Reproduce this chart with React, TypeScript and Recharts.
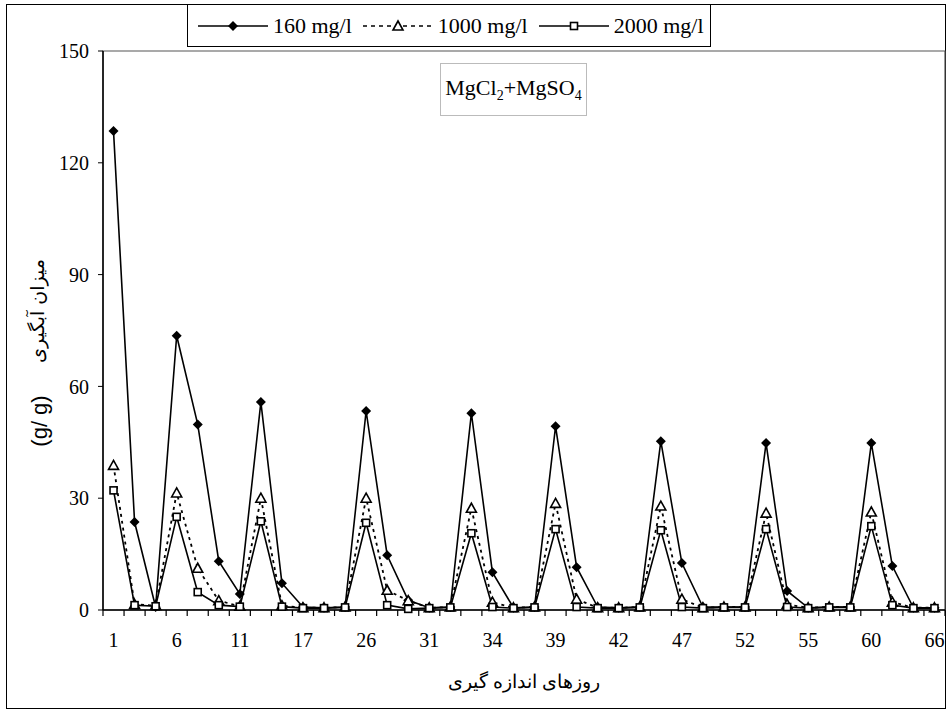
import React from "react";
import { LineChart, Line, XAxis, YAxis, ReferenceArea, Label } from "recharts";

// measurement days (category labels); only every 3rd one is printed on the axis
const days = [
  1, 2, 4, 6, 8, 9, 11, 13, 15, 17, 19, 22, 26, 27, 29, 31, 32, 33, 34, 36,
  38, 39, 40, 41, 42, 45, 46, 47, 48, 50, 52, 53, 54, 55, 57, 59, 60, 62, 64, 66,
];

const mg160 = [
  128.5, 23.6, 0.8, 73.6, 49.8, 13.1, 4.3, 55.8, 7.2, 0.8, 0.6, 0.8, 53.4, 14.7, 2.6, 0.6, 0.8, 52.8, 10.1, 0.6,
  0.8, 49.3, 11.5, 0.8, 0.6, 0.8, 45.3, 12.6, 0.8, 0.8, 0.8, 44.8, 5.1, 0.6, 0.8, 0.8, 44.8, 11.8, 0.6, 0.6,
];
const mg1000 = [
  38.8, 1.5, 1.2, 31.4, 11.2, 2.5, 1.0, 30.0, 1.2, 0.6, 0.6, 0.8, 30.0, 5.3, 2.5, 0.6, 0.8, 27.3, 2.1, 0.6,
  0.8, 28.6, 2.9, 0.6, 0.6, 0.8, 27.9, 2.9, 0.6, 0.8, 0.8, 26.0, 1.5, 0.6, 0.8, 0.8, 26.3, 2.1, 0.6, 0.6,
];
const mg2000 = [
  32.1, 1.3, 1.0, 25.0, 4.8, 1.3, 0.9, 23.8, 0.9, 0.5, 0.5, 0.7, 23.4, 1.3, 0.3, 0.5, 0.7, 20.6, 0.8, 0.5,
  0.7, 21.7, 0.8, 0.5, 0.5, 0.7, 21.4, 0.8, 0.5, 0.7, 0.7, 21.7, 0.8, 0.5, 0.7, 0.7, 22.5, 1.3, 0.5, 0.5,
];

const yTicks = [0, 30, 60, 90, 120, 150];

const rows = days.map((d, i) => ({
  pos: i + 0.5,
  day: d,
  a: mg160[i],
  b: mg1000[i],
  c: mg2000[i],
}));

// tick marks sit on category boundaries, labels on every 3rd category centre
const xTicks: number[] = [];
for (let i = 0; i <= days.length; i++) xTicks.push(i);
for (let i = 0; i < days.length; i += 3) xTicks.push(i + 0.5);
xTicks.sort((p, q) => p - q);

const SERIF = "'Liberation Serif', 'Times New Roman', serif";

const Diamond = (p: any) => {
  const { cx, cy, index } = p;
  if (cx == null || cy == null) return null;
  return (
    <path
      key={`dm-${index}`}
      d={`M${cx},${cy - 5} L${cx + 5},${cy} L${cx},${cy + 5} L${cx - 5},${cy} Z`}
      fill="#000"
    />
  );
};

const Tri = (p: any) => {
  const { cx, cy, index } = p;
  if (cx == null || cy == null) return null;
  return (
    <path
      key={`tr-${index}`}
      d={`M${cx},${cy - 5} L${cx + 5},${cy + 4} L${cx - 5},${cy + 4} Z`}
      fill="#fff"
      stroke="#000"
      strokeWidth={1.6}
    />
  );
};

const Sq = (p: any) => {
  const { cx, cy, index } = p;
  if (cx == null || cy == null) return null;
  return (
    <rect
      key={`sq-${index}`}
      x={cx - 3.5}
      y={cy - 3.5}
      width={7}
      height={7}
      fill="#fff"
      stroke="#000"
      strokeWidth={1.6}
    />
  );
};

const XTick = (props: any) => {
  const { x, y, payload } = props;
  const v = payload.value;
  if (Number.isInteger(v)) {
    return <line x1={x} x2={x} y1={y} y2={y + 6} stroke="#000" strokeWidth={1.2} />;
  }
  const idx = Math.round(v - 0.5);
  return (
    <text x={x} y={y + 37} textAnchor="middle" fontFamily={SERIF} fontSize={20} fill="#000">
      {days[idx]}
    </text>
  );
};

const legendItems = [
  { label: "160 mg/l", dash: undefined, mark: "d" },
  { label: "1000 mg/l", dash: "4 4", mark: "t" },
  { label: "2000 mg/l", dash: undefined, mark: "s" },
];

const LegendSwatch = ({ dash, mark }: { dash?: string; mark: string }) => (
  <svg width={70} height={14} style={{ display: "block" }}>
    <line x1={0} x2={70} y1={7} y2={7} stroke="#000" strokeWidth={1.6} strokeDasharray={dash} />
    {mark === "d" && <Diamond cx={35} cy={7} index={0} />}
    {mark === "t" && <Tri cx={35} cy={7} index={0} />}
    {mark === "s" && <Sq cx={35} cy={7} index={0} />}
  </svg>
);

const LegendBox = () => (
  <div
    style={{
      position: "absolute",
      left: 187,
      top: 4,
      width: 524,
      height: 43,
      border: "1.5px solid #000",
      boxSizing: "border-box",
      background: "#fff",
      display: "flex",
      alignItems: "center",
      paddingLeft: 10,
      whiteSpace: "nowrap",
    }}
  >
    {legendItems.map(it => (
      <div key={it.label} style={{ display: "flex", alignItems: "center", marginRight: 11 }}>
        <LegendSwatch dash={it.dash} mark={it.mark} />
        <span style={{ fontFamily: SERIF, fontSize: 22, marginLeft: 5, color: "#000" }}>{it.label}</span>
      </div>
    ))}
  </div>
);

const YTitle = () => (
  <g>
    <text
      transform="translate(44, 311) rotate(-90)"
      textAnchor="middle"
      fontSize={19}
      fill="#000"
      fontFamily="'DejaVu Sans', sans-serif"
    >
      میزان آبگیری
    </text>
    <text
      transform="translate(47, 421) rotate(-90)"
      textAnchor="middle"
      fontSize={22}
      fill="#000"
      fontFamily="'Liberation Sans', Arial, sans-serif"
    >
      (g/ g)
    </text>
  </g>
);

export default function App() {
  return (
    <div style={{ position: "absolute", left: 0, top: 0, width: 948, height: 719, background: "#fff" }}>
      <div
        style={{
          position: "absolute",
          left: 6,
          top: 4,
          width: 940,
          height: 705,
          border: "1.5px solid #000",
          boxSizing: "border-box",
        }}
      />
      <LineChart
        width={948}
        height={719}
        data={rows}
        margin={{ top: 51, right: 3, bottom: 69, left: 43 }}
        style={{ position: "absolute", left: 0, top: 0 }}
      >
        <ReferenceArea x1={0} x2={40} y1={0} y2={150} fill="none" stroke="#555" strokeWidth={1.2} />
        <XAxis
          type="number"
          dataKey="pos"
          domain={[0, 40]}
          ticks={xTicks}
          interval={0}
          tickLine={false}
          tickSize={0}
          tickMargin={0}
          height={40}
          axisLine={{ stroke: "#000", strokeWidth: 1.5 }}
          tick={<XTick />}
        >
          <Label
            value="روزهای اندازه گیری"
            position="insideBottom"
            offset={-38}
            style={{ fontSize: 19, fill: "#000" }}
          />
        </XAxis>
        <YAxis
          type="number"
          domain={[0, 150]}
          ticks={yTicks}
          width={60}
          tickSize={5}
          tickMargin={9}
          axisLine={{ stroke: "#000", strokeWidth: 1.5 }}
          tickLine={{ stroke: "#000" }}
          tick={{ fill: "#000", fontSize: 20, fontFamily: SERIF }}
        >
          <Label content={<YTitle />} />
        </YAxis>
        <Line
          dataKey="a"
          name="160 mg/l"
          stroke="#000"
          strokeWidth={1.6}
          dot={Diamond}
          activeDot={false}
          isAnimationActive={false}
        />
        <Line
          dataKey="b"
          name="1000 mg/l"
          stroke="#000"
          strokeWidth={1.8}
          strokeDasharray="3 4"
          dot={Tri}
          activeDot={false}
          isAnimationActive={false}
        />
        <Line
          dataKey="c"
          name="2000 mg/l"
          stroke="#000"
          strokeWidth={1.6}
          dot={Sq}
          activeDot={false}
          isAnimationActive={false}
        />
      </LineChart>
      <LegendBox />
      <div
        style={{
          position: "absolute",
          left: 440,
          top: 63,
          width: 147,
          height: 53,
          border: "1px solid #bbb",
          boxSizing: "border-box",
          display: "flex",
          alignItems: "center",
          justifyContent: "center",
          fontFamily: SERIF,
          fontSize: 22,
          color: "#000",
          background: "#fff",
        }}
      >
        <span>
          MgCl<sub style={{ fontSize: 14 }}>2</sub>+MgSO<sub style={{ fontSize: 14 }}>4</sub>
        </span>
      </div>
    </div>
  );
}
